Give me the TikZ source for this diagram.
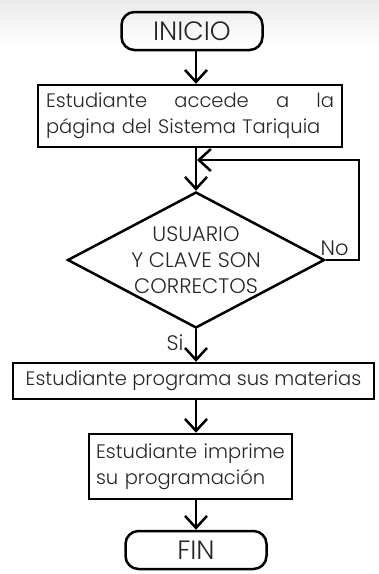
\documentclass[tikz,border=0pt]{standalone}
\usepackage{fontspec}
\setmainfont{Poppins Light}
\usetikzlibrary{shapes.geometric,arrows.meta}
\begin{document}
\begin{tikzpicture}[x=1pt,y=-1pt,>={Straight Barb[length=12pt,width=22pt]},line width=2.5pt,
    terminal/.style={draw,rounded corners=13pt,minimum width=141pt,minimum height=38pt,
      text=black!85,font=\fontsize{26.5}{28}\selectfont},
    proceso/.style={draw,inner sep=8pt,text=black!85,font=\fontsize{19.5}{26}\selectfont},
    decision/.style={draw,diamond,inner sep=0pt,minimum width=257pt,minimum height=136pt},
    etiqueta/.style={text=black!85,font=\fontsize{21}{24}\selectfont}]
    \useasboundingbox (0,0) rectangle (379,574);
    \shade[top color=black!8,bottom color=white] (0,0) rectangle (379,45);
    \node[terminal] (inicio) at (192,31) {INICIO};
    \node[proceso,text width=288pt,align=left,minimum height=59pt] (acceso) at (190,116)
      {Estudiante\hfill accede\hfill a\hfill la\\p\'agina del Sistema Tariquia};
    \node[decision] (check) at (196,260) {};
    \node[text=black!85,font=\fontsize{21}{26}\selectfont,align=center] (pregunta) at (check)
      {USUARIO\\Y CLAVE SON\\CORRECTOS};
    \node[proceso,minimum width=361pt,minimum height=34pt] (programa) at (193.5,381)
      {Estudiante programa sus materias};
    \node[proceso,text width=189pt,inner xsep=7pt,align=left,minimum height=65pt] (imprime) at (190.5,466.5)
      {\mbox{Estudiante imprime}\\su programaci\'on};
    \node[terminal] (fin) at (196,550) {FIN};
    \coordinate (retorno) at (197,160);
    \draw[->] (inicio.south -| check) -- (acceso.north -| check);
    \draw[->] (acceso.south -| check) -- (check.north);
    \draw[->] (check.east) -- node[etiqueta,above,pos=0.27]{No} ++(33,0) |- (retorno);
    \draw[->] (check.south) -- node[etiqueta,left=8pt,pos=0.4]{Si} (programa.north -| check);
    \draw[->] (programa.south -| check) -- (imprime.north -| check);
    \draw[->] (imprime.south -| check) -- (fin);
\end{tikzpicture}
\end{document}
